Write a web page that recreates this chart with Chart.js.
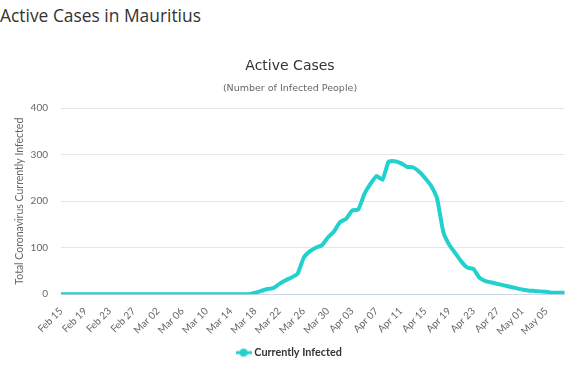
<!DOCTYPE html>
<html>
<head>
<meta charset="utf-8">
<script src="https://cdn.jsdelivr.net/npm/chart.js@4/dist/chart.umd.min.js"></script>
<style>
  html, body { margin: 0; padding: 0; background: #fff; }
  #page-title { position: absolute; left: 0; top: 3px; font-family: "Open Sans", sans-serif; font-size: 17.4px; color: #333; }
  #wrap { position: absolute; left: 0; top: 40px; width: 576px; height: 337px; }
</style>
</head>
<body>
<div id="page-title">Active Cases in Mauritius</div>
<div id="wrap"><canvas id="chart_activeCases"></canvas></div>
<script>
// categories: one per day, Feb 15 .. May 08 (2020)
var monthNames = ['Jan', 'Feb', 'Mar', 'Apr', 'May'];
var dayLabels = [];
var d = new Date(2020, 1, 15);
while (dayLabels.length < 84) {
    dayLabels.push(monthNames[d.getMonth()] + ' ' + String(d.getDate()).padStart(2, '0'));
    d.setDate(d.getDate() + 1);
}

var currentlyInfected = [
    0, 0, 0, 0, 0, 0, 0, 0, 0, 0, 0, 0, 0, 0, 0, 0,
    0, 0, 0, 0, 0, 0, 0, 0, 0, 0, 0, 0, 0, 0, 0, 0,
    3, 7, 11, 13, 22, 30, 36, 44, 78, 92, 100, 105,
    122, 135, 155, 162, 180, 182, 215, 237, 254, 246, 285, 286,
    282, 274, 273, 264, 250, 233, 205, 135, 106, 88, 70, 57,
    54, 35, 28, 25, 22, 19, 16, 13, 10, 8, 7, 6,
    5, 3, 3, 3
];

var yTicks = [0, 100, 200, 300, 400];
var lineColor = '#22d1cd';

// legend marker: short line with a dot
var marker = document.createElement('canvas');
marker.width = 16; marker.height = 10;
var mctx = marker.getContext('2d');
mctx.strokeStyle = lineColor; mctx.lineWidth = 3;
mctx.beginPath(); mctx.moveTo(0, 5); mctx.lineTo(16, 5); mctx.stroke();
mctx.fillStyle = lineColor;
mctx.beginPath(); mctx.arc(8, 5, 4, 0, Math.PI * 2); mctx.fill();

var chart_activeCases = new Chart(document.getElementById('chart_activeCases'), {
    type: 'line',
    data: {
        labels: dayLabels,
        datasets: [
            {
                label: 'Currently Infected',
                data: currentlyInfected,
                borderColor: lineColor,
                backgroundColor: lineColor,
                borderWidth: 4,
                pointRadius: 0,
                tension: 0.15,
                fill: false
            }
        ]
    },
    options: {
        animation: false,
        responsive: true,
        maintainAspectRatio: false,
        layout: {
            padding: { left: 13, right: 9, top: 0, bottom: 9 }
        },
        plugins: {
            title: {
                display: true,
                text: 'Active Cases',
                color: '#333',
                font: { family: 'DejaVu Sans', size: 14, weight: 'normal' },
                padding: { top: 18, bottom: 8 }
            },
            subtitle: {
                display: true,
                text: '(Number of Infected People)',
                color: '#666',
                font: { family: 'DejaVu Sans', size: 9.5 },
                padding: { top: 0, bottom: 14 }
            },
            legend: {
                position: 'bottom',
                labels: {
                    usePointStyle: true,
                    pointStyle: marker,
                    color: '#333',
                    font: { family: 'Lato', size: 10.8, weight: 'bold' },
                    padding: 7
                }
            },
            tooltip: { enabled: false }
        },
        scales: {
            x: {
                type: 'category',
                grid: { display: false },
                border: { display: true, color: '#ccd6eb', width: 1 },
                ticks: {
                    autoSkip: false,
                    maxRotation: 45,
                    minRotation: 45,
                    color: '#666',
                    font: { family: 'Lato', size: 10 },
                    callback: function(value, index) {
                        return index % 4 === 0 ? dayLabels[index] : '';
                    }
                }
            },
            y: {
                min: yTicks[0],
                max: yTicks[yTicks.length - 1],
                grid: { color: '#e6e6e6', drawTicks: false },
                border: { display: false },
                afterFit: function(scale) {
                    scale.width = 48;
                },
                ticks: {
                    stepSize: 100,
                    padding: 13,
                    color: '#666',
                    font: { family: 'Lato', size: 10 }
                },
                title: {
                    display: true,
                    text: 'Total Coronavirus Currently Infected',
                    color: '#666',
                    font: { family: 'Lato', size: 10.5 },
                    padding: { top: 0, bottom: 4 }
                }
            }
        }
    },
    plugins: [{
        id: 'whiteBg',
        beforeDraw: (chart) => {
            const ctx = chart.canvas.getContext('2d');
            ctx.save();
            ctx.globalCompositeOperation = 'destination-over';
            ctx.fillStyle = 'white';
            ctx.fillRect(0, 0, chart.canvas.width, chart.canvas.height);
            ctx.restore();
        }
    }]
});
</script>
</body>
</html>
